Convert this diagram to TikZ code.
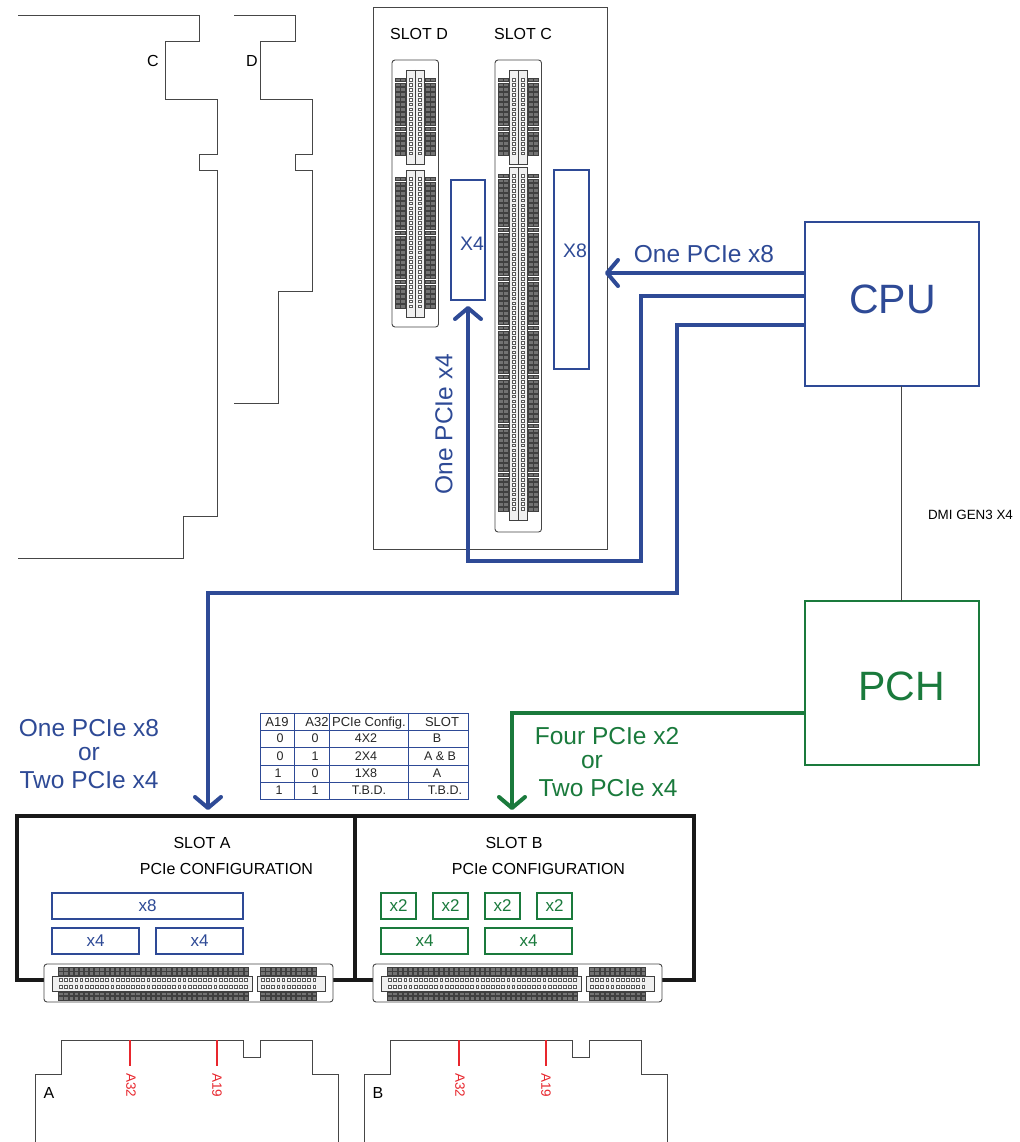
\documentclass[tikz,border=0pt]{standalone}
\usepackage{fontspec}
\setmainfont{Liberation Sans}
\usetikzlibrary{arrows.meta}
\definecolor{pcieblue}{RGB}{46,74,150}
\definecolor{pchgreen}{RGB}{26,122,60}
\definecolor{pinred}{RGB}{232,38,45}
\definecolor{outline}{RGB}{70,70,70}
\newcommand{\fs}[1]{\fontsize{#1}{#1}\selectfont}
\tikzset{
  outlinepath/.style = {draw = outline, line width = 1pt},
  textlabel/.style = {inner sep = 0pt, outer sep = 0pt, text = black, font = \fs{16}},
  bluelabel/.style = {inner sep = 0pt, outer sep = 0pt, text = pcieblue, font = \fs{24.5}},
  greenlabel/.style = {inner sep = 0pt, outer sep = 0pt, text = pchgreen, font = \fs{24.5}},
  redlabel/.style = {inner sep = 0pt, outer sep = 0pt, text = pinred, font = \fs{13.5}, rotate = -90},
  cellbox/.style = {draw = pcieblue, line width = 0.9pt, inner sep = 0pt, outer sep = 0pt},
  celltext/.style = {inner sep = 0pt, outer sep = 0pt, text depth = 0pt, text = black!85, font = \fs{12.5}},
  bluebox/.style = {draw = pcieblue, line width = 2pt, inner sep = 0pt, outer sep = 0pt, text = pcieblue, font = \fs{17}},
  greenbox/.style = {draw = pchgreen, line width = 2pt, inner sep = 0pt, outer sep = 0pt, text = pchgreen, font = \fs{17}},
  bluebus/.style = {draw = pcieblue, line width = 4pt, -{Straight Barb[length = 11pt, width = 26pt, round]}},
  greenbus/.style = {draw = pchgreen, line width = 4pt, -{Straight Barb[length = 11pt, width = 26pt, round]}},
  slotframe/.style = {draw = black!90, line width = 4.5pt, inner sep = 0pt, outer sep = 0pt},
  slotbody/.style = {draw = outline, fill = white, line width = 0.9pt, rounded corners = 3pt},
  pinbox/.style = {draw = black!75, fill = black!55, line width = 0.6pt},
  pinhole/.style = {draw = black!65, fill = white, line width = 0.5pt},
  channel/.style = {draw = black!75, fill = black!6, line width = 0.7pt}
}
% connector lying flat, groups along x
\newcommand{\hgroup}[4]{
  \foreach \n in {1,...,#3} {
    \draw[pinbox] ({#1+(\n-1)*5.15},967) rectangle +(4.3,3.9);
    \draw[pinbox] ({#1+(\n-1)*5.15},971.4) rectangle +(4.3,3.9);
    \draw[pinbox] ({#1+(\n-1)*5.15},991.8) rectangle +(4.3,3.9);
    \draw[pinbox] ({#1+(\n-1)*5.15},996.2) rectangle +(4.3,3.9);
  }
  \draw[channel] (#2,976.5) rectangle (#4,991);
  \foreach \n in {1,...,#3} {
    \draw[pinhole] ({#1+(\n-1)*5.15+0.8},978.5) rectangle +(2.8,3.2);
    \draw[pinhole] ({#1+(\n-1)*5.15+0.8},985) rectangle +(2.8,3.2);
  }
}
\newcommand{\hconnector}[1]{
  \begin{scope}[xshift = #1pt]
  \draw[slotbody] (44,964) rectangle (333,1002);
  \hgroup{58.5}{52}{37}{252}
  \hgroup{260.5}{257}{11}{325}
  \end{scope}
}
% connector standing up, groups along y
\newcommand{\vgroup}[3]{
  \foreach \n in {1,...,#3} {
    \draw[pinbox] (395.5,{#1+(\n-1)*4.9}) rectangle +(4.6,3.7);
    \draw[pinbox] (400.5,{#1+(\n-1)*4.9}) rectangle +(4.6,3.7);
    \draw[pinbox] (425.5,{#1+(\n-1)*4.9}) rectangle +(4.6,3.7);
    \draw[pinbox] (430.5,{#1+(\n-1)*4.9}) rectangle +(4.6,3.7);
  }
  \draw[channel] (406.5,#2) rectangle (424.5,{#1+(#3)*4.9+8});
  \foreach \n in {1,...,#3} {
    \draw[pinhole] (409,{#1+(\n-1)*4.9+0.4}) rectangle +(3,2.8);
    \draw[pinhole] (418.5,{#1+(\n-1)*4.9+0.4}) rectangle +(3,2.8);
  }
  \draw[black!75, line width = 0.7pt] (415.5,#2) -- (415.5,{#1+(#3)*4.9+8});
}
\begin{document}
\begin{tikzpicture}[x = 1pt, y = -1pt]
\useasboundingbox (0,0) rectangle (1019,1142);
\fill[white] (0,0) rectangle (1019,1142);
% slot outlines
\draw[outlinepath] (18,16) -- (199,16) -- (199,42) -- (165,42) -- (165,100) -- (217,100) -- (217,155) -- (199,155) -- (199,171) -- (217,171) -- (217,516) -- (183,516) -- (183,558) -- (18,558);
\draw[outlinepath] (234,16) -- (295,16) -- (295,42) -- (260,42) -- (260,100) -- (312,100) -- (312,155) -- (295,155) -- (295,171) -- (312,171) -- (312,291) -- (278,291) -- (278,403) -- (234,403);
\node[textlabel] (outlinec) at (153,61) {C};
\node[textlabel] (outlined) at (252,61) {D};
% upper card
\node[draw = outline, line width = 1pt, inner sep = 0pt, outer sep = 0pt, minimum width = 234pt, minimum height = 541pt] (upperslots) at (490,278.5) {};
\node[textlabel] (slotdtext) at (419,34) {SLOT D};
\node[textlabel] (slotctext) at (523,34) {SLOT C};
\draw[slotbody] (392,60) rectangle (438.5,327);
\vgroup{78}{70}{16}
\vgroup{177}{170}{27}
\begin{scope}[xshift = 103pt]
\draw[slotbody] (392,60) rectangle (438.5,532);
\vgroup{78}{70}{16}
\vgroup{174}{167}{69}
\end{scope}
\node[bluebox, minimum width = 34pt, minimum height = 120pt] (xfourbox) at (468,240) {};
\node[bluebox, minimum width = 35pt, minimum height = 199pt] (xeightbox) at (571.5,269.5) {};
\node[bluelabel, font = \fs{19.5}] (xfourtext) at (472,244) {X4};
\node[bluelabel, font = \fs{19.5}] (xeighttext) at (575,251) {X8};
% CPU and PCH
\node[draw = pcieblue, line width = 2pt, inner sep = 0pt, outer sep = 0pt, minimum width = 174pt, minimum height = 164pt] (cpu) at (892,304) {};
\node[bluelabel, font = \fs{41}] (cputext) at (892.5,299) {CPU};
\node[draw = pchgreen, line width = 2pt, inner sep = 0pt, outer sep = 0pt, minimum width = 174pt, minimum height = 164pt] (pch) at (892,683) {};
\node[greenlabel, font = \fs{41}] (pchtext) at (901.5,686) {PCH};
\coordinate (dmitop) at (901,386);
\draw[draw = outline, line width = 1pt] (dmitop) -- (dmitop |- pch.north);
\node[textlabel, font = \fs{13.4}] (dmitext) at (970.5,515) {DMI GEN3 X4};
% lower slots
\node[slotframe, minimum width = 338pt, minimum height = 164pt] (slota) at (186,898) {};
\node[slotframe, minimum width = 339pt, minimum height = 164pt] (slotb) at (524.5,898) {};
\node[textlabel] (slotatext) at (202,843) {SLOT A};
\node[textlabel] (slotbtext) at (514,843) {SLOT B};
\node[textlabel] (configatext) at (226.5,869) {PCIe CONFIGURATION};
\node[textlabel] (configbtext) at (538.5,869) {PCIe CONFIGURATION};
\hconnector{0}
\hconnector{329}
\node[bluebox, minimum width = 191pt, minimum height = 26pt] (aeight) at (147.5,906) {x8};
\node[bluebox, minimum width = 87pt, minimum height = 26pt] (afourone) at (95.5,941) {x4};
\node[bluebox, minimum width = 87pt, minimum height = 26pt] (afourtwo) at (199.5,941) {x4};
\foreach \n/\x in {1/398.5,2/450.5,3/502.5,4/554.5}
  \node[greenbox, minimum width = 35pt, minimum height = 26pt] (btwo\n) at (\x,906) {x2};
\node[greenbox, minimum width = 87pt, minimum height = 26pt] (bfourone) at (424.5,941) {x4};
\node[greenbox, minimum width = 87pt, minimum height = 26pt] (bfourtwo) at (528.5,941) {x4};
% buses
\coordinate (xeighttip) at (605,273);
\coordinate (xfourtip) at (468,306);
\coordinate (xfourrise) at (468,561);
\coordinate (midbus) at (641,296);
\coordinate (lowbus) at (677,325);
\coordinate (slotatip) at (208,810);
\coordinate (slotabus) at (208,593);
\coordinate (slotbtip) at (512,810);
\coordinate (pchbus) at (512,713);
\draw[bluebus] (cpu.west |- xeighttip) -- (xeighttip);
\draw[bluebus] (cpu.west |- midbus) -- (midbus) |- (xfourrise) -- (xfourtip);
\draw[bluebus] (cpu.west |- lowbus) -- (lowbus) |- (slotabus) -- (slotatip);
\draw[greenbus] (pch.west |- pchbus) -- (pchbus) -- (slotbtip);
\node[bluelabel] (xeightbus) at (704,254) {One PCIe x8};
\node[bluelabel, rotate = 90] (xfourbus) at (444,424) {One PCIe x4};
\node[bluelabel] (aone) at (89,728) {One PCIe x8};
\node[bluelabel] (aor) at (89,754) {or};
\node[bluelabel] (atwo) at (89,780) {Two PCIe x4};
\node[greenlabel] (bone) at (607,736) {Four PCIe x2};
\node[greenlabel] (bor) at (592,762) {or};
\node[greenlabel] (btwo) at (608,788) {Two PCIe x4};
% config table
\draw[cellbox] (260,713) rectangle (468,799);
\foreach \y in {730,747,765,782} \draw[cellbox] (260,\y) -- (468,\y);
\foreach \x in {294,329,408} \draw[cellbox] (\x,713) -- (\x,799);
\node[celltext, font = \fs{13}] (heada) at (277,721.5) {A19};
\node[celltext, font = \fs{13}] (headb) at (317,721.5) {A32};
\node[celltext, font = \fs{13}] (headc) at (369,721.5) {PCIe Config.};
\node[celltext, font = \fs{13}] (headd) at (442,721.5) {SLOT};
\foreach \n/\y/\a/\b/\c/\d/\ax/\cx/\dx in {1/738/0/0/4X2/B/280/366/437, 2/756/0/1/2X4/A \& B/280/366/440, 3/773/1/0/1X8/A/278/366/437, 4/790/1/1/T.B.D./T.B.D./279/369/445} {
  \node[celltext] (rowa\n) at (\ax,\y) {\a};
  \node[celltext] (rowb\n) at (315,\y) {\b};
  \node[celltext] (rowc\n) at (\cx,\y) {\c};
  \node[celltext] (rowd\n) at (\dx,\y) {\d};
}
% lower outlines
\foreach \s/\t in {0/A,329/B} {
  \begin{scope}[xshift = \s pt]
  \draw[outlinepath] (35,1142) -- (35,1074) -- (61,1074) -- (61,1040) -- (243,1040) -- (243,1057) -- (260,1057) -- (260,1040) -- (312,1040) -- (312,1074) -- (338,1074) -- (338,1142);
  \draw[pinred, line width = 1.7pt] (130,1040) -- (130,1066);
  \draw[pinred, line width = 1.7pt] (217,1040) -- (217,1066);
  \node[redlabel] (pinb\t) at (131,1085) {A32};
  \node[redlabel] (pina\t) at (217,1085) {A19};
  \node[textlabel] (outline\t) at (49,1093) {\t};
  \end{scope}
}
\end{tikzpicture}
\end{document}
